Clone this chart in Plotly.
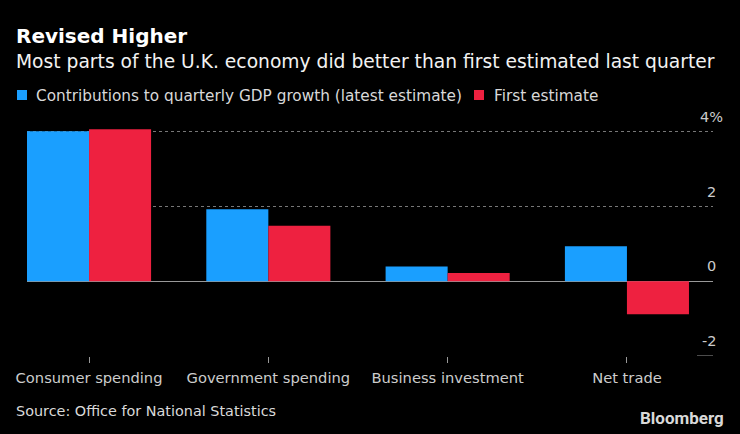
import plotly.graph_objects as go

categories = ["Consumer spending", "Government spending", "Business investment", "Net trade"]
latest = [4.02, 1.93, 0.40, 0.94]
first = [4.07, 1.49, 0.22, -0.88]
series_names = ["Contributions to quarterly GDP growth (latest estimate)", "First estimate"]
ytick_vals = [4, 2, 0, -2]
ytick_text = ["4%", "2", "0", "-2"]

BLUE = "#1a9fff"
RED = "#ee2140"
FONT = "DejaVu Sans"

W, H = 740, 434
ML, MR, MT, MB = 27, 27, 117, 78
PW = W - ML - MR
PH = H - MT - MB


def px_x(px):
    return (px - ML) / PW


def px_y(py):
    return (H - MB - py) / PH


fig = go.Figure()
fig.add_trace(go.Bar(x=categories, y=latest, name=series_names[0], marker=dict(color=BLUE, line=dict(width=0))))
fig.add_trace(go.Bar(x=categories, y=first, name=series_names[1], marker=dict(color=RED, line=dict(width=0))))

annotations = []
shapes = []

# title and subtitle
annotations.append(dict(text="<b>Revised Higher</b>", xref="paper", yref="paper", x=px_x(14), y=px_y(36),
                        xanchor="left", yanchor="middle", showarrow=False,
                        font=dict(family=FONT, size=20, color="#ffffff")))
annotations.append(dict(text="Most parts of the U.K. economy did better than first estimated last quarter",
                        xref="paper", yref="paper", x=px_x(14), y=px_y(61),
                        xanchor="left", yanchor="middle", showarrow=False,
                        font=dict(family=FONT, size=18.7, color="#f2f2f2")))

# legend
leg_items = [(17, 34, BLUE, series_names[0]), (474, 492, RED, series_names[1])]
for sx, tx, col, name in leg_items:
    shapes.append(dict(type="rect", xref="paper", yref="paper", x0=px_x(sx), x1=px_x(sx + 10),
                       y0=px_y(100), y1=px_y(90), fillcolor=col, line=dict(width=0)))
    annotations.append(dict(text=name, xref="paper", yref="paper", x=px_x(tx), y=px_y(96),
                            xanchor="left", yanchor="middle", showarrow=False,
                            font=dict(family=FONT, size=15.3, color="#d9d9d9")))

# y tick labels (right side, above gridlines)
for v, t in zip(ytick_vals, ytick_text):
    annotations.append(dict(text=t, xref="paper", yref="y", x=1, y=v, xanchor="right", yanchor="middle",
                            xshift=12 if "%" in t else 5, yshift=15, showarrow=False,
                            font=dict(family=FONT, size=14.5, color="#cccccc")))

# short tick at bottom value
shapes.append(dict(type="line", xref="paper", yref="y", x0=px_x(697), x1=1, y0=ytick_vals[-1], y1=ytick_vals[-1],
                   line=dict(color="#999999", width=1)))

# source and logo
annotations.append(dict(text="Source: Office for National Statistics", xref="paper", yref="paper",
                        x=px_x(14), y=px_y(411), xanchor="left", yanchor="middle", showarrow=False,
                        font=dict(family=FONT, size=14.4, color="#d9d9d9")))
annotations.append(dict(text="<b>Bloomberg</b>", xref="paper", yref="paper",
                        x=px_x(726), y=px_y(418), xanchor="right", yanchor="middle", showarrow=False,
                        font=dict(family="Roboto", size=17, color="#d9d9d9")))

fig.update_layout(
    width=W, height=H,
    margin=dict(l=ML, r=MR, t=MT, b=MB, pad=0),
    paper_bgcolor="#000000", plot_bgcolor="#000000",
    barmode="group", bargap=0.308, bargroupgap=0,
    showlegend=False,
    font=dict(family=FONT, color="#cccccc"),
    annotations=annotations, shapes=shapes,
)
fig.update_xaxes(
    type="category", range=[-0.346, 3.48], showgrid=False, zeroline=False, showline=False,
    ticks="outside", ticklen=6, tickcolor="#999999", tickwidth=1, ticklabelstandoff=2,
    tickfont=dict(family=FONT, size=14.7, color="#cccccc"),
)
fig.update_yaxes(
    range=[-2, 4.4], tickvals=[2, 4], showticklabels=False, ticks="",
    showgrid=True, gridcolor="#777777", griddash="dot", gridwidth=1,
    zeroline=True, zerolinecolor="#999999", zerolinewidth=1, showline=False,
)

fig.write_html("out.html", config={"displayModeBar": False},
               post_script="document.body.style.margin='0';document.body.style.background='#000';")
